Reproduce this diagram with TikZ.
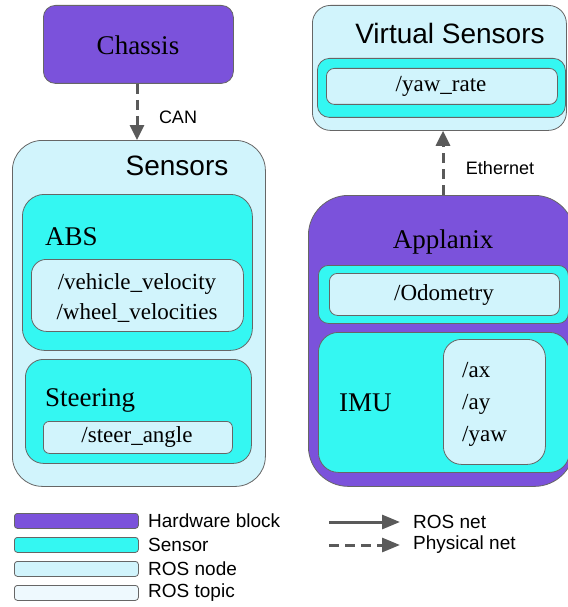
\documentclass[tikz,border=0pt]{standalone}
\usepackage{fontspec}
\setmainfont{Liberation Serif}
\setsansfont{Liberation Sans}
\usetikzlibrary{arrows.meta}
\definecolor{hwcol}{HTML}{7B52DB}
\definecolor{sencol}{HTML}{34F7F2}
\definecolor{nodecol}{HTML}{D1F4FC}
\definecolor{topcol}{HTML}{EEF9FE}
\definecolor{edgecol}{HTML}{666666}
\definecolor{arrcol}{HTML}{5A5A5A}
\tikzset{
  blk/.style={draw=edgecol, line width=0.8pt, inner sep=0pt, anchor=north west},
  hwbox/.style={blk, fill=hwcol},
  senbox/.style={blk, fill=sencol},
  nodebox/.style={blk, fill=nodecol},
  topbox/.style={blk, fill=topcol},
  ttl/.style={inner sep=0pt, font=\fontsize{27}{32}\selectfont},
  tpc/.style={inner sep=0pt, font=\fontsize{23}{30}\selectfont},
  sttl/.style={inner sep=0pt, font=\sffamily\fontsize{28}{32}\selectfont},
  slbl/.style={inner sep=0pt, font=\sffamily\fontsize{18}{22}\selectfont},
  leglbl/.style={inner sep=0pt, anchor=west, font=\sffamily\fontsize{19}{22}\selectfont},
  conn/.style={draw=arrcol, line width=3pt, -{Triangle[length=15pt,width=14pt]}},
  dconn/.style={conn, dash pattern=on 10pt off 6pt},
}
\begin{document}
\begin{tikzpicture}[x=1pt,y=-1pt]
\useasboundingbox (0,0) rectangle (567,607);

% Chassis
\node[hwbox, rounded corners=12pt, minimum width=190pt, minimum height=78pt] (chassis) at (43,5) {};
\node[ttl] (chassisT) at (138,45) {Chassis};

% Sensors
\node[nodebox, rounded corners=30pt, minimum width=253pt, minimum height=346pt] (sensors) at (12,140) {};
\node[sttl] (sensorsT) at (177,166) {Sensors};

% ABS
\node[senbox, rounded corners=22pt, minimum width=230pt, minimum height=156pt] (abs) at (22,194) {};
\node[ttl, anchor=west] (absT) at (45,237) {ABS};
\node[topbox, fill=nodecol, rounded corners=15pt, minimum width=212pt, minimum height=72pt] (absTop) at (31,259) {};
\node[tpc, align=center] (absTopT) at (137,298) {/vehicle\_velocity\\/wheel\_velocities};

% Steering
\node[senbox, rounded corners=18pt, minimum width=226pt, minimum height=104pt] (steer) at (25,359) {};
\node[ttl, anchor=west] (steerT) at (45,400) {Steering};
\node[topbox, fill=nodecol, rounded corners=6pt, minimum width=189pt, minimum height=32pt] (steerTop) at (43,421) {};
\node[tpc] (steerTopT) at (137,437) {/steer\_angle};

% Virtual Sensors
\node[nodebox, rounded corners=18pt, minimum width=254pt, minimum height=125pt] (virt) at (312,5) {};
\node[sttl] (virtT) at (450,33) {Virtual Sensors};
\node[senbox, rounded corners=12pt, minimum width=248pt, minimum height=59pt] (virtSen) at (317,58) {};
\node[topbox, fill=nodecol, rounded corners=8pt, minimum width=231pt, minimum height=36pt] (yawTop) at (326,68) {};
\node[tpc] (yawTopT) at (441,86) {/yaw\_rate};

% Applanix
\node[hwbox, rounded corners=40pt, minimum width=266pt, minimum height=291pt] (appl) at (308,195) {};
\node[ttl] (applT) at (443,242) {Applanix};
\node[senbox, rounded corners=10pt, minimum width=250pt, minimum height=58pt] (odomSen) at (318,265) {};
\node[topbox, fill=nodecol, rounded corners=8pt, minimum width=230pt, minimum height=42pt] (odomTop) at (329,273) {};
\node[tpc] (odomTopT) at (444,295) {/Odometry};
\node[senbox, rounded corners=20pt, minimum width=251pt, minimum height=140pt] (imu) at (318,332) {};
\node[ttl, anchor=west] (imuT) at (339,403) {IMU};
\node[topbox, fill=nodecol, rounded corners=18pt, minimum width=102pt, minimum height=125pt] (imuTop) at (443,339) {};
\node[tpc, align=left, anchor=west, font=\fontsize{23}{32}\selectfont] (imuTopT) at (462,404) {/ax\\/ay\\/yaw};

% Connectors
\draw[dconn] (chassis.south -| 137,0) -- (sensors.north -| 137,0);
\node[slbl] (canT) at (178,117) {CAN};
\draw[dconn] (appl.north -| 443,0) -- (virt.south -| 443,0);
\node[slbl] (ethT) at (500,168) {Ethernet};

% Legend
\node[hwbox, rounded corners=3pt, minimum width=124pt, minimum height=15pt] (lhw) at (14,513) {};
\node[senbox, rounded corners=3pt, minimum width=124pt, minimum height=15pt] (lsen) at (14,537) {};
\node[nodebox, rounded corners=3pt, minimum width=124pt, minimum height=15pt] (lnode) at (14,561) {};
\node[topbox, rounded corners=3pt, minimum width=124pt, minimum height=15pt] (ltop) at (14,585) {};
\node[leglbl] (lhwT) at (148,521) {Hardware block};
\node[leglbl] (lsenT) at (148,545) {Sensor};
\node[leglbl] (lnodeT) at (148,569) {ROS node};
\node[leglbl] (ltopT) at (148,593) {ROS topic};

\coordinate (ra1) at (329,522);
\coordinate (ra2) at (400,522);
\coordinate (pa1) at (329,545);
\coordinate (pa2) at (400,545);
\draw[conn, -{Triangle[length=18pt,width=14pt]}] (ra1) -- (ra2);
\draw[dconn, -{Triangle[length=18pt,width=14pt]}] (pa1) -- (pa2);
\node[leglbl] (rosT) at (413,522) {ROS net};
\node[leglbl] (physT) at (413,545) {Physical net};
\end{tikzpicture}
\end{document}
